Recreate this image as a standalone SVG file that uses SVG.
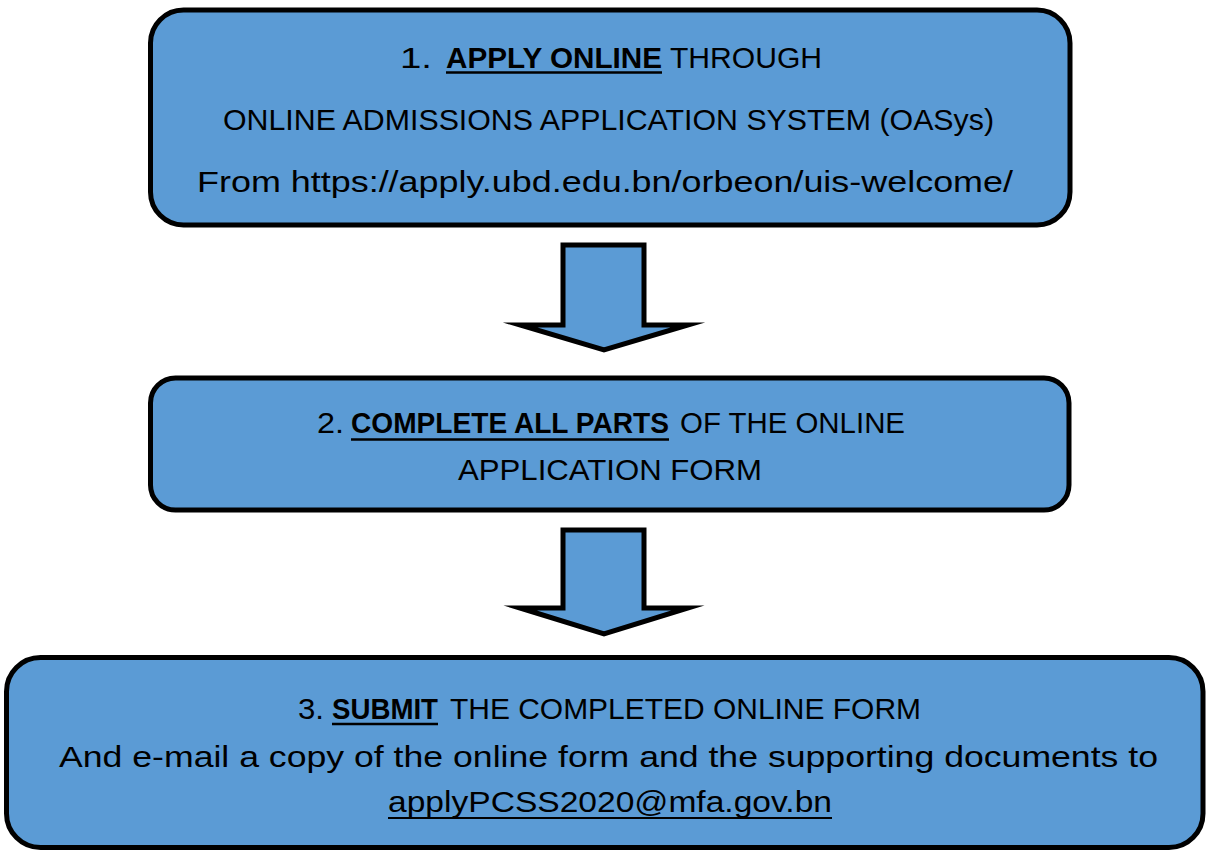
<svg xmlns="http://www.w3.org/2000/svg" width="1207" height="851" viewBox="0 0 1207 851">
<style>
.box{fill:#5B9BD5;stroke:#000;stroke-width:5}
.arr{fill:#5B9BD5;stroke:#000;stroke-width:5;stroke-linejoin:miter;stroke-miterlimit:10}
text{font-family:"Liberation Sans",Arial,sans-serif;font-size:29px;fill:#000}
.b{font-weight:bold}
.ul{stroke:#000;stroke-width:2.5}
</style>
<rect width="1207" height="851" fill="#fff"/>
<g id="connectors">
<polygon class="arr" points="563,245 644,245 644,325 688,325 604,350 520,325 563,325"/>
<polygon class="arr" points="563,530 644,530 644,608 688,608 604,634 520,608 563,608"/>
</g>
<g id="node1">
<rect class="box" x="150.5" y="10" width="919.5" height="215" rx="33"/>
<text x="400" y="68" textLength="32" lengthAdjust="spacingAndGlyphs">1.</text>
<text class="b" x="446" y="68" textLength="216" lengthAdjust="spacingAndGlyphs">APPLY ONLINE</text>
<line class="ul" x1="446" y1="72.5" x2="662" y2="72.5"/>
<text x="670" y="68" textLength="152" lengthAdjust="spacingAndGlyphs">THROUGH</text>
<text x="223" y="130" textLength="771" lengthAdjust="spacingAndGlyphs">ONLINE ADMISSIONS APPLICATION SYSTEM (OASys)</text>
<text x="197" y="192" textLength="816" lengthAdjust="spacingAndGlyphs">From https://apply.ubd.edu.bn/orbeon/uis-welcome/</text>
</g>
<g id="node2">
<rect class="box" x="150.5" y="378" width="918.5" height="132" rx="25"/>
<text x="317" y="433" textLength="27" lengthAdjust="spacingAndGlyphs">2.</text>
<text class="b" x="351" y="433" textLength="318" lengthAdjust="spacingAndGlyphs">COMPLETE ALL PARTS</text>
<line class="ul" x1="351" y1="439.5" x2="669" y2="439.5"/>
<text x="680" y="433" textLength="225" lengthAdjust="spacingAndGlyphs">OF THE ONLINE</text>
<text x="458" y="480" textLength="304" lengthAdjust="spacingAndGlyphs">APPLICATION FORM</text>
</g>
<g id="node3">
<rect class="box" x="6.5" y="657.5" width="1196.5" height="190" rx="34"/>
<text x="298" y="719" textLength="26" lengthAdjust="spacingAndGlyphs">3.</text>
<text class="b" x="332" y="719" textLength="106" lengthAdjust="spacingAndGlyphs">SUBMIT</text>
<line class="ul" x1="332" y1="724" x2="438" y2="724"/>
<text x="450" y="719" textLength="471" lengthAdjust="spacingAndGlyphs">THE COMPLETED ONLINE FORM</text>
<text x="59" y="767" textLength="1099" lengthAdjust="spacingAndGlyphs">And e-mail a copy of the online form and the supporting documents to</text>
<text x="388" y="812" textLength="444" lengthAdjust="spacingAndGlyphs">applyPCSS2020@mfa.gov.bn</text>
<line x1="388" y1="818" x2="832" y2="818" stroke="#000" stroke-width="2"/>
</g>
</svg>
